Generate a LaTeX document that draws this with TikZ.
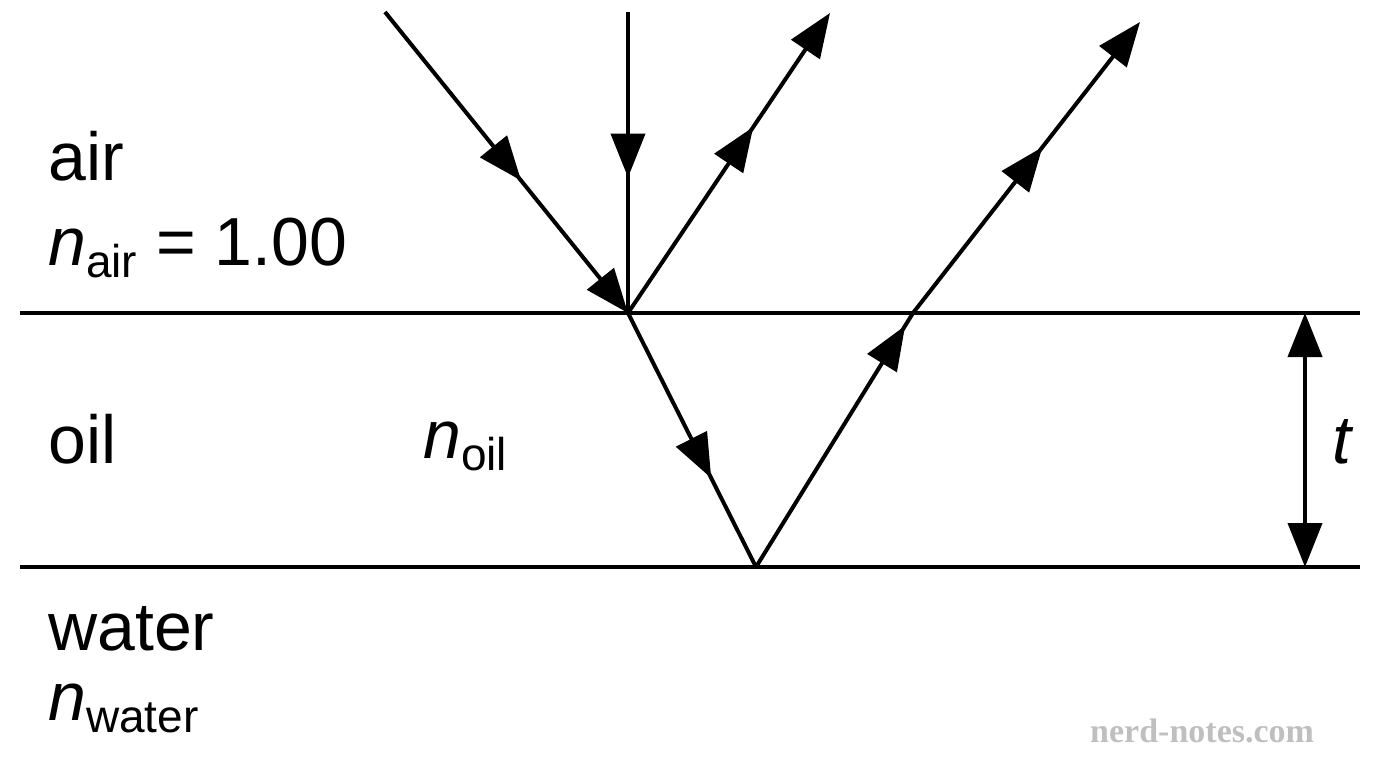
\documentclass[tikz,border=0pt]{standalone}
\usepackage{fontspec}
\setmainfont{Liberation Sans}
\newfontfamily\wm{Liberation Serif}
\usetikzlibrary{arrows.meta,decorations.markings}
\begin{document}
\begin{tikzpicture}[x=1pt,y=-1pt,
  ray/.style={line width=4pt},
  tip/.style={-{Triangle[length=44pt,width=34pt]}},
  mid/.style={postaction={decorate},decoration={markings,mark=at position #1 with {\arrow{Triangle[length=44pt,width=34pt]}}}},
  lab/.style={anchor=base west,font=\fontsize{68}{70}\selectfont,inner sep=0pt}]
\newcommand{\sbs}[1]{\raisebox{-12pt}{\fontsize{46}{46}\selectfont #1}}
\useasboundingbox (0,0) rectangle (1376,768);
\coordinate (L1) at (20,313); \coordinate (R1) at (1360,313);
\coordinate (L2) at (20,567); \coordinate (R2) at (1360,567);
\coordinate (P) at (628,313); \coordinate (Q) at (756,567); \coordinate (S) at (913,313);
\coordinate (A) at (385,12); \coordinate (B) at (628,12);
\coordinate (C) at (830,13); \coordinate (D) at (1140,22);
\coordinate (T1) at (1305,313); \coordinate (T2) at (1305,567);
\draw[line width=3.5pt] (L1) -- (R1);
\draw[line width=3.5pt] (L2) -- (R2);
\draw[ray,tip,mid=0.56] (A) -- (P);
\draw[ray,mid=0.55] (B) -- (P);
\draw[ray,tip,mid=0.62] (P) -- (C);
\draw[ray,mid=0.65] (P) -- (Q);
\draw[ray,mid=0.95] (Q) -- (S);
\draw[ray,tip,mid=0.57] (S) -- (D);
\draw[ray,{Triangle[length=44pt,width=34pt]}-{Triangle[length=44pt,width=34pt]}] (T1) -- (T2);
\node[lab] (air) at (48,180) {air};
\node[lab] (nair) at (48,265) {\textit{n}\sbs{air} = 1.00};
\node[lab] (oil) at (48,463) {oil};
\node[lab] (noil) at (423,458) {\textit{n}\sbs{oil}};
\node[lab] (water) at (48,650) {water};
\node[lab] (nwater) at (48,720) {\textit{n}\sbs{water}};
\node[lab] (t) at (1332,463) {\textit{t}};
\node[anchor=base west,inner sep=0pt,text=black!25,font=\wm\bfseries\fontsize{34}{34}\selectfont] (wm) at (1090,742) {nerd-notes.com};
\end{tikzpicture}
\end{document}
